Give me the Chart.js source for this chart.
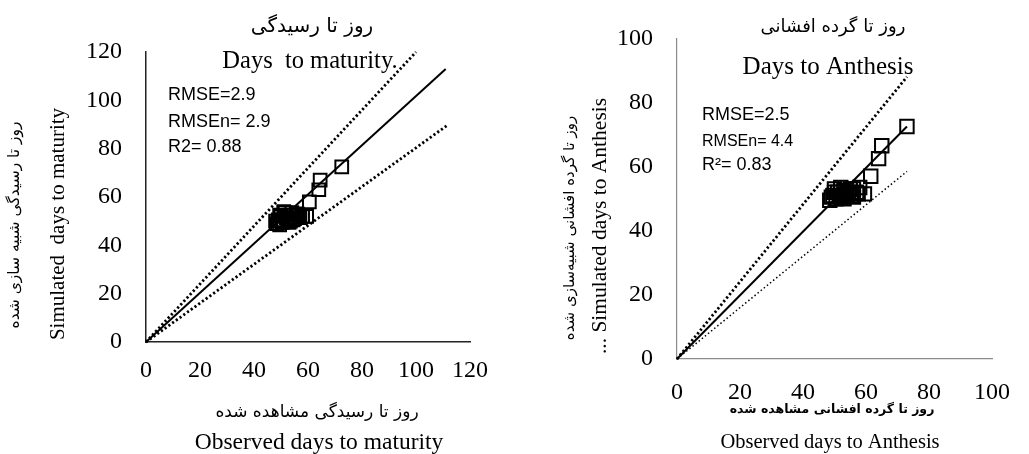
<!DOCTYPE html>
<html>
<head>
<meta charset="utf-8">
<script src="https://cdn.jsdelivr.net/npm/chart.js@4.4.0/dist/chart.umd.min.js"></script>
<style>
html,body{margin:0;padding:0;background:#fff;}
#wrap{position:relative;width:1029px;height:454px;overflow:hidden;}
canvas{position:absolute;top:0;}
#c1{left:0;}
#c2{left:515px;}
</style>
</head>
<body>
<div id="wrap">
<canvas id="c1" width="515" height="454"></canvas>
<canvas id="c2" width="514" height="454"></canvas>
</div>
<script>
// ---- Data: Days to maturity (left) ----
const maturityObserved  = [72.5, 64.5, 64, 60.5, 59.5, 48.5, 49, 49.5, 50, 51, 51.5, 52, 53, 53.5, 54, 55, 55.5, 56, 57, 58,
                           48, 49.5, 50.5, 52.5, 54.5, 56.5, 51, 53];
const maturitySimulated = [72.5, 67, 63, 58, 52, 49, 50.5, 48.5, 52, 50, 53.5, 51.5, 52.5, 50, 53.5, 51, 52.5, 53, 51.5, 52,
                           50, 52.5, 49.5, 51, 50.5, 52.5, 54, 49.5];
const maturityUpperX = [0, 100];  const maturityUpperY = [0, 120];
const maturityFitX   = [0, 111];  const maturityFitY   = [0, 113];
const maturityLowerX = [0, 112];  const maturityLowerY = [0, 90];
const maturityTicks = [0, 20, 40, 60, 80, 100, 120];

// ---- Data: Days to anthesis (right) ----
const anthesisObserved  = [73, 65, 64, 61.5, 59.5, 48.5, 49.5, 50, 51, 52, 52.5, 53, 54, 55, 56, 57, 58, 50.5, 53.5, 55.5,
                           49, 50, 51.5, 53, 54.5, 56, 57.5, 52];
const anthesisSimulated = [72.5, 66.5, 62.5, 57, 51.5, 49.5, 51, 53, 52, 53.5, 50.5, 52.5, 51, 53, 50.5, 52, 53.5, 50, 51.5, 51,
                           50.5, 52, 51, 50, 52, 53, 51.5, 50.5];
const anthesisUpperX = [0, 73];  const anthesisUpperY = [0, 88];
const anthesisFitX   = [0, 73];  const anthesisFitY   = [0, 72.5];
const anthesisLowerX = [0, 73];  const anthesisLowerY = [0, 58.5];
const anthesisTicks = [0, 20, 40, 60, 80, 100];

const zip = (xs, ys) => xs.map((x, i) => ({x: x, y: ys[i]}));

const PERSIAN = '"DejaVu Sans", sans-serif';
const SERIF = '"Liberation Serif", "Times New Roman", serif';
const SANS = '"Liberation Sans", Arial, sans-serif';

function textPlugin(items) {
  return {
    id: 'texts',
    afterDraw(chart) {
      const ctx = chart.ctx;
      items.forEach(it => {
        ctx.save();
        ctx.fillStyle = it.color || '#000';
        ctx.font = it.font;
        ctx.textAlign = it.align || 'center';
        ctx.textBaseline = 'middle';
        ctx.translate(it.x, it.y);
        if (it.rot) ctx.rotate(-Math.PI / 2);
        ctx.fillText(it.t, 0, 0);
        ctx.restore();
      });
    }
  };
}

function makeChart(id, cfg) {
  const lineDs = (data, width, dash) => ({
    type: 'scatter', data: data, showLine: true, pointRadius: 0,
    borderColor: '#000', borderWidth: width, borderDash: dash, clip: false,
    fill: false
  });
  return new Chart(document.getElementById(id), {
    type: 'scatter',
    data: {
      datasets: [
        { data: cfg.points, pointStyle: 'rect', pointRadius: cfg.pr, borderWidth: 2,
          borderColor: '#000', backgroundColor: 'rgba(0,0,0,0)', clip: false },
        lineDs(cfg.fit, 2, []),
        lineDs(cfg.upper, 2.8, [2.2, 2.4]),
        lineDs(cfg.lower, cfg.lowerW, cfg.lowerDash)
      ]
    },
    options: {
      responsive: false,
      animation: false,
      devicePixelRatio: 1,
      layout: { padding: cfg.pad },
      plugins: { legend: { display: false }, tooltip: { enabled: false }, title: { display: false } },
      scales: {
        x: {
          type: 'linear', min: 0, max: cfg.max,
          afterBuildTicks: s => { s.ticks = cfg.ticks.map(v => ({value: v})); },
          afterFit: s => { s.height = cfg.xh; },
          grid: { display: false, drawTicks: false },
          border: { display: true, color: cfg.axisColor, width: cfg.axisW },
          ticks: { font: { family: SERIF, size: 24 }, color: '#000', padding: cfg.xpad, maxRotation: 0 }
        },
        y: {
          type: 'linear', min: 0, max: cfg.max,
          afterBuildTicks: s => { s.ticks = cfg.ticks.map(v => ({value: v})); },
          afterFit: s => { s.width = cfg.yw; },
          grid: { display: false, drawTicks: false },
          border: { display: true, color: cfg.axisColor, width: cfg.axisW },
          ticks: { font: { family: SERIF, size: 24 }, color: '#000', padding: cfg.ypad }
        }
      }
    },
    plugins: [textPlugin(cfg.texts)]
  });
}

makeChart('c1', {
  points: zip(maturityObserved, maturitySimulated),
  fit: zip(maturityFitX, maturityFitY),
  upper: zip(maturityUpperX, maturityUpperY),
  lower: zip(maturityLowerX, maturityLowerY),
  lowerW: 2.8, lowerDash: [2.2, 2.4],
  ticks: maturityTicks, max: 120, pr: 9,
  pad: { top: 52, right: 45, left: 0, bottom: 0 },
  xh: 112, yw: 146, xpad: 14, ypad: 24,
  axisColor: '#222', axisW: 1.5,
  texts: [
    { t: 'روز تا رسیدگی', x: 312, y: 27, font: '20px ' + PERSIAN },
    { t: 'Days  to maturity.', x: 310, y: 62, font: '24.5px ' + SERIF },
    { t: 'RMSE=2.9', x: 168, y: 95, align: 'left', font: '18px ' + SANS },
    { t: 'RMSEn= 2.9', x: 168, y: 122, align: 'left', font: '18px ' + SANS },
    { t: 'R2= 0.88', x: 168, y: 147, align: 'left', font: '18px ' + SANS },
    { t: 'Simulated  days to maturity', x: 58, y: 224, rot: true, font: '21px ' + SERIF },
    { t: 'روز تا رسیدگی شبیه سازی شده', x: 15, y: 225, rot: true, font: '15.5px ' + PERSIAN },
    { t: 'روز تا رسیدگی مشاهده شده', x: 317, y: 413, font: '17px ' + PERSIAN },
    { t: 'Observed days to maturity', x: 319, y: 443, font: '23.5px ' + SERIF }
  ]
});

makeChart('c2', {
  points: zip(anthesisObserved, anthesisSimulated),
  fit: zip(anthesisFitX, anthesisFitY),
  upper: zip(anthesisUpperX, anthesisUpperY),
  lower: zip(anthesisLowerX, anthesisLowerY),
  lowerW: 1.5, lowerDash: [1.5, 2.5],
  ticks: anthesisTicks, max: 100, pr: 9.5,
  pad: { top: 33, right: 20, left: 0, bottom: 0 },
  xh: 95, yw: 162, xpad: 19, ypad: 24,
  axisColor: '#8a8a8a', axisW: 1.2,
  texts: [
    { t: 'روز تا گرده افشانی', x: 318, y: 27, font: '18px ' + PERSIAN },
    { t: 'Days to Anthesis', x: 313, y: 67, font: '25px ' + SERIF },
    { t: 'RMSE=2.5', x: 187, y: 115, align: 'left', font: '18px ' + SANS },
    { t: 'RMSEn= 4.4', x: 187, y: 142, align: 'left', font: '16px ' + SANS },
    { t: 'R²= 0.83', x: 187, y: 165, align: 'left', font: '18px ' + SANS },
    { t: '... Simulated days to Anthesis', x: 85, y: 226, rot: true, font: '21.5px ' + SERIF },
    { t: 'روز تا گرده افشانی شبیه‌سازی شده', x: 55, y: 228, rot: true, font: '15px ' + PERSIAN },
    { t: 'روز تا گرده افشانی مشاهده شده', x: 317, y: 410, font: 'bold 12.5px ' + PERSIAN },
    { t: 'Observed days to Anthesis', x: 315, y: 443, font: '20.5px ' + SERIF }
  ]
});
</script>
</body>
</html>
